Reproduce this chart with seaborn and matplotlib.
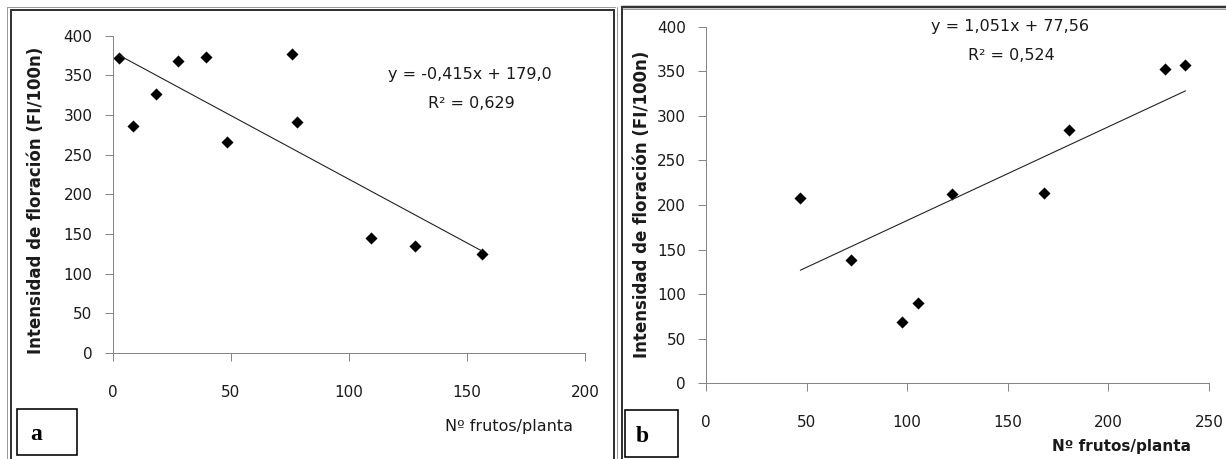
import numpy as np
import pandas as pd
import matplotlib
matplotlib.use("Agg")
import matplotlib.pyplot as plt
from matplotlib.lines import Line2D
from matplotlib.patches import Rectangle
import seaborn as sns

# Panel a: fruits per plant vs flowering intensity
frutos_a = [2.7, 8.7, 18.4, 27.8, 39.5, 48.5, 76.0, 78.2, 109.3, 128.0, 156.5]
floracion_a = [371.5, 286.0, 327.0, 368.0, 373.6, 266.5, 377.0, 291.0, 144.8, 134.3, 124.2]
ecuacion_a = "y = -0,415x + 179,0"
r2_a = "0,629"

# Panel b: fruits per plant vs flowering intensity
frutos_b = [46.9, 72.1, 97.3, 105.3, 122.3, 167.8, 180.3, 228.3, 238.3]
floracion_b = [207.5, 138.3, 68.8, 89.7, 212.3, 213.0, 284.1, 352.1, 356.6]
pendiente_b = 1.051
intercepto_b = 77.56
r2_b = "0,524"

xticks_a = [0, 50, 100, 150, 200]
xticks_b = [0, 50, 100, 150, 200, 250]
yticks = [0, 50, 100, 150, 200, 250, 300, 350, 400]

ylabel = "Intensidad de floración (FI/100n)"
xlabel = "Nº frutos/planta"

sns.set_theme(style="white")
plt.rcParams["font.family"] = ["DejaVu Sans"]

W, H = 1226, 459
fig = plt.figure(figsize=(W / 100, H / 100), dpi=100)


def fx(x):
    return x / W


def fy(y):
    return 1 - y / H


PX = 0.72  # one pixel in points
AXIS_GREY = "#868686"
TXT = "#1a1a1a"


def style_axes(ax, xmax, xticks):
    ax.set_xlim(0, xmax)
    ax.set_ylim(0, 400)
    ax.set_xticks(xticks)
    ax.set_yticks(yticks)
    ax.set_xlabel("")
    ax.set_ylabel("")
    for side in ("top", "right"):
        ax.spines[side].set_visible(False)
    for side in ("left", "bottom"):
        ax.spines[side].set_color(AXIS_GREY)
        ax.spines[side].set_linewidth(1.0 * PX)
    ax.tick_params(axis="both", which="both", direction="out", length=6 * PX * 1.39,
                   width=1.0 * PX, color=AXIS_GREY, labelsize=11, labelcolor=TXT,
                   bottom=True, left=True)
    ax.tick_params(axis="x", pad=17.0)
    ax.tick_params(axis="y", pad=8.5)
    ax.set_facecolor("none")


# ---- panel a ----
ax_a = fig.add_axes([fx(112.5), fy(353), (585 - 112.5) / W, (353 - 35.7) / H])
df_a = pd.DataFrame({"frutos": frutos_a, "floracion": floracion_a})
sns.regplot(data=df_a, x="frutos", y="floracion", ax=ax_a, scatter=False, ci=None,
            truncate=True, line_kws={"color": "#222222", "lw": 0.8})
sns.scatterplot(data=df_a, x="frutos", y="floracion", ax=ax_a, marker="D", s=38,
                color="black", edgecolor="black", linewidth=0, clip_on=False)
style_axes(ax_a, 200, xticks_a)

# ---- panel b ----
ax_b = fig.add_axes([fx(706), fy(383.3), (1209 - 706) / W, (383.3 - 26.7) / H])
df_b = pd.DataFrame({"frutos": frutos_b, "floracion": floracion_b})
x_line = np.array([min(frutos_b), max(frutos_b)])
df_line_b = pd.DataFrame({"x": x_line, "y": pendiente_b * x_line + intercepto_b})
sns.lineplot(data=df_line_b, x="x", y="y", ax=ax_b, color="#222222", lw=0.8)
sns.scatterplot(data=df_b, x="frutos", y="floracion", ax=ax_b, marker="D", s=38,
                color="black", edgecolor="black", linewidth=0, clip_on=False)
style_axes(ax_b, 250, xticks_b)

ecuacion_b = f"y = {pendiente_b:.3f}x + {intercepto_b:.2f}".replace(".", ",")

# ---- texts ----
fig.text(fx(470), fy(75), ecuacion_a, ha="center", va="center", fontsize=11.5, color=TXT)
fig.text(fx(471), fy(103), f"R² = {r2_a}", ha="center", va="center", fontsize=11.5, color=TXT)
fig.text(fx(1010), fy(27), ecuacion_b, ha="center", va="center", fontsize=11.5, color=TXT)
fig.text(fx(1011), fy(55), f"R² = {r2_b}", ha="center", va="center", fontsize=11.5, color=TXT)

fig.text(fx(36), fy(200), ylabel, rotation=90, ha="center", va="center",
         fontsize=12, fontweight="bold", color=TXT)
fig.text(fx(642), fy(204), ylabel, rotation=90, ha="center", va="center",
         fontsize=12, fontweight="bold", color=TXT)

fig.text(fx(509), fy(426), xlabel, ha="center", va="center", fontsize=11.5, color=TXT)
fig.text(fx(1122), fy(447), xlabel, ha="center", va="center", fontsize=11,
         fontweight="bold", color=TXT)


# ---- panel frames ----
def hline(x0, x1, y, color, lw):
    fig.add_artist(Line2D([fx(x0), fx(x1)], [fy(y), fy(y)], color=color, lw=lw * PX,
                          transform=fig.transFigure))


def vline(x, y0, y1, color, lw):
    fig.add_artist(Line2D([fx(x), fx(x)], [fy(y0), fy(y1)], color=color, lw=lw * PX,
                          transform=fig.transFigure))


# frame a: thin grey outer line and dark inner line
hline(7, 615, 6.5, "#9a9a9a", 1)
vline(7, 6.5, 459, "#9a9a9a", 1)
hline(10.5, 613.5, 10, "#333333", 2)
vline(10.5, 10, 459, "#333333", 2)
vline(613.5, 10, 459, "#333333", 2)

# frame b
hline(621.5, 1226, 6.5, "#333333", 2.5)
hline(623, 1226, 9, "#9a9a9a", 1)
vline(621.5, 6.5, 459, "#333333", 2)
vline(617, 6.5, 459, "#9a9a9a", 1)

# panel letters
for (x0, y0, x1, y1, letter, tx) in [(17, 409, 77, 455, "a", 30), (625, 410, 678, 457, "b", 636)]:
    fig.add_artist(Rectangle((fx(x0), fy(y1)), fx(x1) - fx(x0), fy(y0) - fy(y1),
                             transform=fig.transFigure, facecolor="white",
                             edgecolor="black", lw=1.6 * PX))
    fig.text(fx(tx), fy((y0 + y1) / 2 + 3), letter, ha="left", va="center",
             fontsize=17, fontweight="bold", family="Liberation Serif", color="black")

fig.savefig("out.png", dpi=100, facecolor="white")
